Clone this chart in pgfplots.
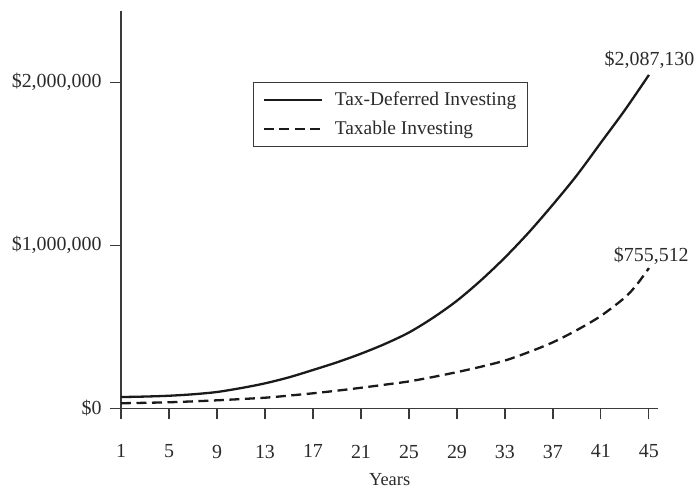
\documentclass[border=0pt]{standalone}
\usepackage{pgfplots}
\pgfplotsset{compat=1.18}
\usepackage{fontspec}
\setmainfont{Liberation Serif}
\definecolor{txt}{HTML}{2B2B2B}
\definecolor{ln}{HTML}{1A1A1A}
\definecolor{ax}{HTML}{3A3A3A}
\begin{document}
\begin{tikzpicture}
\begin{axis}[
  at={(0,0)}, anchor=origin,
  scale only axis,
  width=537.3bp, height=397.3bp,
  xmin=1, xmax=45.78,
  ymin=0, ymax=2437000,
  axis x line*=bottom, axis y line*=left,
  axis line style={ax, line width=1.1bp},
  tick style={ax, line width=1.1bp},
  tick align=outside,
  major tick length=11bp,
  xtick={1,5,9,13,17,21,25,29,33,37,41,45},
  ytick={0,1000000,2000000},
  scaled y ticks=false,
  yticklabels={{\$0},{\$1,000,000},{\$2,000,000}},
  /pgf/number format/assume math mode=true,
  xticklabel style={yshift=-22bp},
  yticklabel style={xshift=-5bp},
  ticklabel style={font=\fontsize{20}{24}\selectfont, text=txt},
  xlabel={Years},
  xlabel style={at={(axis description cs:0.5,0)}, anchor=base, yshift=-77.5bp,
    inner sep=0pt, font=\fontsize{18.5}{22}\selectfont, text=txt},
  legend style={at={(0.2457,0.822)}, anchor=north west,
    draw=ax, line width=1bp, font=\fontsize{19.5}{23}\selectfont,
    text=txt, inner xsep=9bp, inner ysep=8bp, row sep=10bp, column sep=10bp,
    cells={anchor=west}},
  legend image code/.code={\draw[#1] (0bp,0bp) -- (58bp,0bp);},
  clip=false,
]
\addplot[ln, line width=2.3bp, smooth] coordinates {
(1,69000) (3,72000) (5,77000) (7,86000) (9,100000) (11,124000) (13,153000)
(15,190000) (17,235000) (19,282000) (21,335000)
(23,395000) (25,465000) (27,555000) (29,660000) (31,785000) (33,925000)
(35,1080000) (37,1250000) (39,1430000) (41,1630000) (43,1830000) (45,2045000)};
\addlegendentry{Tax-Deferred Investing}
\addplot[ln, line width=2.3bp, dash pattern=on 10bp off 5.5bp, smooth] coordinates {
(1,31000) (5,37000) (9,49000) (13,65000) (15,78000) (17,92000) (19,108000)
(21,126000) (23,145000) (25,165000) (27,192000) (29,222000) (31,255000)
(33,293000) (35,345000) (37,405000) (39,480000) (41,567000)
(43,680000) (44,760000) (45,860000)};
\addlegendentry{Taxable Investing}
\node[anchor=base, font=\fontsize{20}{24}\selectfont, text=txt] at (axis cs:45.05,2045000) [yshift=9bp] {\$2,087,130};
\node[anchor=base, font=\fontsize{20}{24}\selectfont, text=txt] at (axis cs:45.2,860000) [yshift=7bp] {\$755,512};
\end{axis}
\pgfresetboundingbox
\path (-121bp,-79.7bp) rectangle (578bp,408.3bp);
\end{tikzpicture}
\end{document}
